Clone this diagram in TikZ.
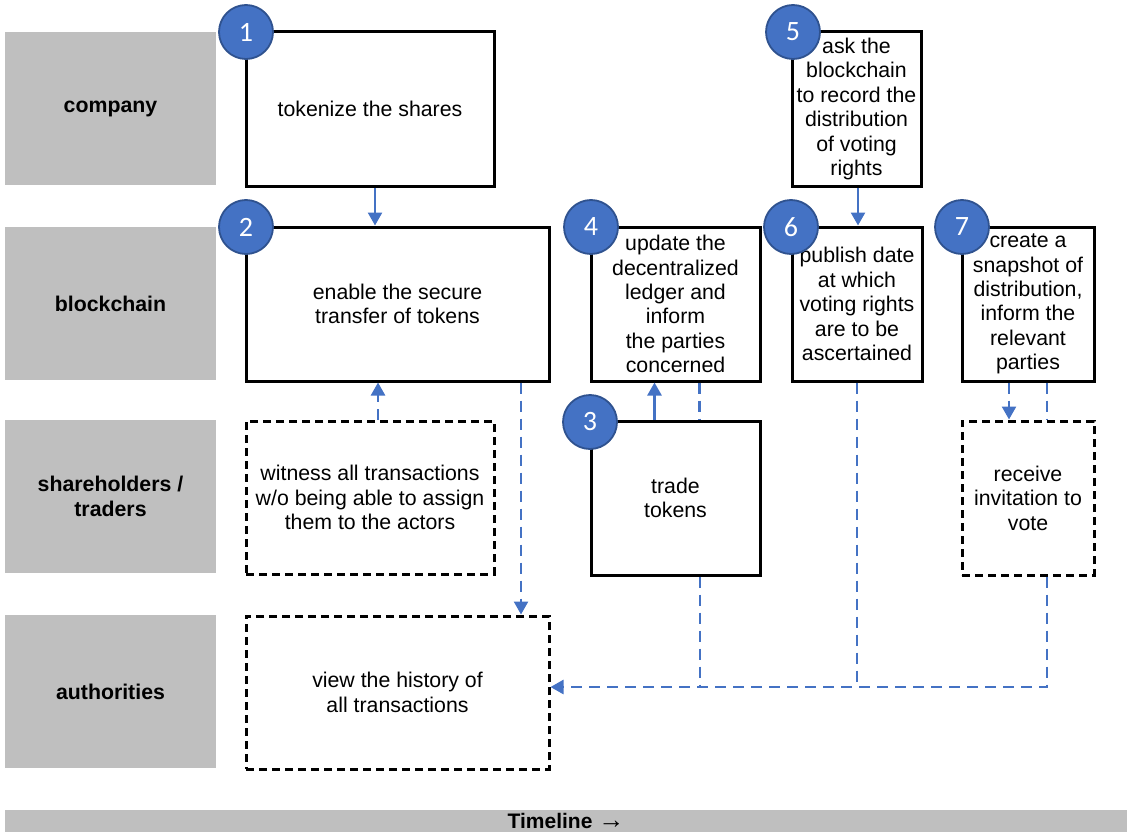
\documentclass[tikz,border=0pt]{standalone}
\usepackage{fontspec}
\setmainfont{Liberation Sans}
\newfontfamily\numfont{Carlito}
\usetikzlibrary{arrows.meta,calc}
\definecolor{lblgray}{HTML}{BFBFBF}
\definecolor{accblue}{HTML}{4472C4}
\definecolor{accdark}{HTML}{2F528F}
\tikzset{
  lane/.style={fill=lblgray, draw=none, inner sep=0pt, minimum width=211pt, minimum height=153pt, align=center, font=\fontsize{21.3}{24.4}\selectfont\bfseries},
  stepbox/.style={draw=black, line width=3pt, fill=white, inner sep=0pt, align=center, font=\fontsize{21.3}{24.4}\selectfont},
  dashbox/.style={stepbox, dash pattern=on 8pt off 5pt},
  numcirc/.style={circle, fill=accblue, draw=accdark, line width=1.8pt, minimum size=54pt, inner sep=0pt, text=white, font=\fontsize{28}{28}\numfont},
  solidarr/.style={draw=accblue, line width=2.5pt, -{Triangle[length=13pt,width=14pt]}},
  dasharr/.style={draw=accblue, line width=2.5pt, dash pattern=on 11pt off 7pt, -{Triangle[length=13pt,width=14pt]}},
  dline/.style={draw=accblue, line width=2.5pt, dash pattern=on 11pt off 7pt},
}
\begin{document}
\begin{tikzpicture}[x=1pt,y=-1pt]
\useasboundingbox (0,0) rectangle (1127,832);
% lanes
\node[lane] (lcomp) at (110.5,108.5) {company};
\node[lane] (lblock) at (110.5,303.5) {blockchain};
\node[lane] (lshare) at (110.5,496.5) {shareholders /\\traders};
\node[lane] (lauth) at (110.5,691.5) {authorities};
\node[fill=lblgray, inner sep=0pt, minimum width=1122pt, minimum height=22pt, font=\fontsize{21}{21}\selectfont\bfseries] (tl) at (566,821) {Timeline {\fontsize{26}{26}\selectfont\mdseries →}};
% boxes
\node[stepbox, minimum width=248pt, minimum height=154pt] (b1) at (370,109) {tokenize the shares};
\node[stepbox, minimum width=303pt, minimum height=154pt] (b2) at (397.5,304) {enable the secure\\transfer of tokens};
\node[dashbox, minimum width=248pt, minimum height=153pt] (bw) at (370,497.5) {witness all transactions\\w/o being able to assign\\them to the actors};
\node[dashbox, minimum width=303pt, minimum height=153pt] (bv) at (397.5,692.5) {view the history of\\all transactions};
\node[stepbox, minimum width=169pt, minimum height=154pt] (b4) at (675.5,304) {update the\\decentralized\\ledger and\\inform\\the parties\\concerned};
\node[stepbox, minimum width=169pt, minimum height=154pt] (b3) at (675.5,498) {trade\\tokens};
\node[stepbox, minimum width=129pt, minimum height=154pt] (b5) at (856.5,109) {ask the\\blockchain\\to record the\\distribution\\of voting\\rights};
\node[stepbox, minimum width=130pt, minimum height=154pt] (b6) at (857,304) {publish date\\at which\\voting rights\\are to be\\ascertained};
\node[stepbox, minimum width=132pt, minimum height=154pt] (b7) at (1028,304) {create a\\snapshot of\\distribution,\\inform the\\relevant\\parties};
\node[dashbox, minimum width=132pt, minimum height=154pt] (br) at (1028,498) {receive\\invitation to\\vote};
% connectors
\draw[solidarr] ([xshift=5pt]b1.south) -- ([xshift=5pt]b1.south |- b2.north);
\draw[dasharr] ([xshift=8pt]bw.north) -- ([xshift=8pt]bw.north |- b2.south);
\draw[dasharr] ([xshift=123.5pt]b2.south) -- ([xshift=123.5pt]b2.south |- bv.north);
\draw[solidarr] ([xshift=-21pt]b3.north) -- ([xshift=-21pt]b3.north |- b4.south);
\draw[dline] ([xshift=24pt]b4.south) -- ([xshift=24pt]b4.south |- b3.north);
\draw[solidarr] ([xshift=1.5pt]b5.south) -- ([xshift=1.5pt]b5.south |- b6.north);
\draw[dasharr] ([xshift=-19pt]b7.south) -- ([xshift=-19pt]b7.south |- br.north);
\draw[dline] ([xshift=19pt]b7.south) -- ([xshift=19pt]b7.south |- br.north);
\coordinate (hl) at (1047,687);
\draw[dasharr] ([xshift=19pt]br.south) -- ([xshift=19pt]br.south |- hl) -- (bv.east |- hl);
\draw[dline] ([xshift=24.5pt]b3.south) -- ([xshift=24.5pt]b3.south |- hl);
\draw[dline] (b6.south) -- (b6.south |- hl);
% number circles
\node[numcirc] (c1) at (246,32) {1};
\node[numcirc] (c2) at (246,227) {2};
\node[numcirc] (c3) at (590,422) {3};
\node[numcirc] (c4) at (591,227) {4};
\node[numcirc] (c5) at (793,32) {5};
\node[numcirc] (c6) at (791,227) {6};
\node[numcirc] (c7) at (962,227) {7};
\end{tikzpicture}
\end{document}
